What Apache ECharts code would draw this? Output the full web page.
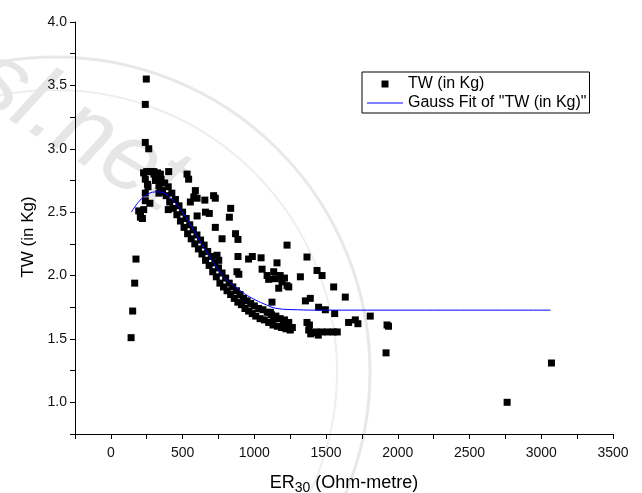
<!DOCTYPE html>
<html>
<head>
<meta charset="utf-8">
<script src="https://cdn.jsdelivr.net/npm/echarts@6/dist/echarts.min.js"></script>
<style>
  html, body { margin: 0; padding: 0; background: #fff; }
  #chart { width: 642px; height: 493px; }
</style>
</head>
<body>
<div id="chart"></div>
<script>
// ---- measurements: ER30 (Ohm-metre) vs TW (in Kg) ----

// low-resistivity column and spike near the peak
const peakEr = [141, 152, 166, 175, 194, 206, 206, 220, 229, 240, 240, 259, 255, 240, 272,
                247, 240, 240, 264, 228, 250, 275, 300, 325, 345, 403, 345, 335, 400];
const peakTw = [1.51, 1.72, 1.94, 2.13, 2.51, 2.46, 2.48, 2.45, 2.52, 2.59, 2.65, 2.70, 2.72, 2.76, 2.57,
                3.55, 3.35, 3.05, 3.00, 2.81, 2.82, 2.82, 2.82, 2.81, 2.80, 2.82, 2.66, 2.65, 2.52];

// main descending band (upper edge)
const bandUpperEr = [300, 325, 350, 375, 400, 425, 450, 475, 500, 525, 550, 575, 600, 625, 650, 675, 700,
                     725, 750, 775, 800, 825, 850, 875, 900, 925, 950, 975, 1000, 1030, 1060, 1090, 1120,
                     1150, 1180, 1210, 1240];
const bandUpperTw = [2.80, 2.78, 2.76, 2.73, 2.70, 2.65, 2.60, 2.55, 2.50, 2.45, 2.40, 2.36, 2.32, 2.28, 2.24,
                     2.19, 2.15, 2.10, 2.06, 2.02, 1.98, 1.94, 1.91, 1.88, 1.85, 1.82, 1.80, 1.78, 1.76,
                     1.74, 1.73, 1.71, 1.69, 1.68, 1.66, 1.65, 1.63];

// main descending band (lower edge)
const bandLowerEr = [310, 335, 360, 385, 410, 435, 460, 485, 510, 535, 560, 585, 610, 635, 660, 685, 710,
                     735, 760, 785, 810, 835, 860, 885, 910, 935, 960, 985, 1010, 1040, 1070, 1100, 1130,
                     1160, 1190, 1220, 1250];
const bandLowerTw = [2.75, 2.71, 2.67, 2.63, 2.58, 2.53, 2.48, 2.43, 2.38, 2.33, 2.29, 2.25, 2.21, 2.17, 2.12,
                     2.08, 2.03, 1.99, 1.94, 1.91, 1.88, 1.85, 1.82, 1.79, 1.77, 1.74, 1.72, 1.70, 1.68,
                     1.66, 1.65, 1.63, 1.61, 1.60, 1.59, 1.58, 1.57];

// scattered upper branch
const upperEr = [531, 542, 589, 601, 554, 578, 601, 655, 659, 686, 716, 728, 728, 740, 752, 775, 835, 826,
                 869, 886, 886, 879, 892, 960, 986, 1047, 1054, 1089, 1100, 1135, 1146, 1158, 1170, 1180,
                 1193, 1210, 1228, 1240, 1228, 1321, 1367, 1437, 1472, 1553, 1634, 1123];
const upperTw = [2.80, 2.76, 2.67, 2.61, 2.58, 2.62, 2.47, 2.595, 2.50, 2.49, 2.63, 2.61, 2.38, 2.16, 2.12,
                 2.29, 2.53, 2.46, 2.33, 2.285, 2.15, 2.03, 2.01, 2.13, 2.15, 2.14, 2.05, 2.00, 1.97, 2.03,
                 1.975, 2.10, 1.90, 2.00, 1.95, 1.98, 1.92, 1.91, 2.24, 1.99, 2.146, 2.04, 2.00, 1.91, 1.83, 1.79];

// tail at high resistivity
const tailEr = [1356, 1390, 1448, 1495, 1560, 1112, 1135, 1204, 1251, 1265, 1367, 1379, 1384, 1393, 1414,
                1430, 1446, 1470, 1510, 1550, 1578, 1657, 1704, 1722, 1808, 1925, 1935, 1918, 2762, 3071];
const tailTw = [1.80, 1.82, 1.75, 1.73, 1.70, 1.71, 1.66, 1.63, 1.58, 1.59, 1.63, 1.57, 1.61, 1.54, 1.55,
                1.555, 1.53, 1.555, 1.555, 1.555, 1.555, 1.63, 1.65, 1.62, 1.68, 1.61, 1.60, 1.39, 1.00, 1.31];

// Gauss fit curve
const fitEr = [143, 200, 260, 322, 380, 450, 510, 566, 610, 659, 710, 763, 820, 879, 940, 995, 1060,
               1158, 1300, 1460, 2000, 2500, 3065];
const fitTw = [2.50, 2.59, 2.645, 2.66, 2.645, 2.57, 2.48, 2.38, 2.29, 2.20, 2.11, 2.02, 1.95, 1.90,
               1.85, 1.815, 1.78, 1.74, 1.73, 1.727, 1.727, 1.727, 1.727];

// labelled tick values
const xLabelValues = [0, 500, 1000, 1500, 2000, 2500, 3000, 3500];
const yLabelValues = [1.0, 1.5, 2.0, 2.5, 3.0, 3.5, 4.0];

const seriesNames = ['TW (in Kg)', 'Gauss Fit of "TW (in Kg)"'];

function pairs(xs, ys) { return xs.map((x, i) => [x, ys[i]]); }
const scatterData = [].concat(
  pairs(peakEr, peakTw),
  pairs(bandUpperEr, bandUpperTw),
  pairs(bandLowerEr, bandLowerTw),
  pairs(upperEr, upperTw),
  pairs(tailEr, tailTw)
);
const fitData = pairs(fitEr, fitTw);

const FONT = '"Liberation Sans", Arial, Helvetica, sans-serif';
const chart = echarts.init(document.getElementById('chart'), null, { renderer: 'canvas' });

chart.setOption({
  animation: false,
  backgroundColor: '#ffffff',
  textStyle: { fontFamily: FONT },
  grid: { left: 75, right: 29, top: 22, bottom: 59, containLabel: false, outerBoundsMode: 'none' },
  // faint watermark behind the plot
  graphic: [
    { type: 'circle', silent: true, z: -10, shape: { cx: 55, cy: 372, r: 315 },
      style: { fill: 'none', stroke: '#e8e8e8', lineWidth: 3 } },
    { type: 'circle', silent: true, z: -10, shape: { cx: 55, cy: 372, r: 282 },
      style: { fill: 'none', stroke: '#eeeeee', lineWidth: 2 } },
    { type: 'text', silent: true, z: -10, x: 6, y: 30, rotation: -0.55,
      style: { text: 'sl.net', fontSize: 96, fontStyle: 'italic', fontFamily: FONT, fill: '#e6e6e6' } }
  ],
  legend: {
    orient: 'vertical',
    left: 362,
    top: 72,
    itemWidth: 36,
    itemHeight: 7,
    itemGap: 3,
    padding: [4, 3, 2, 5],
    borderColor: '#000',
    borderWidth: 1,
    backgroundColor: '#fff',
    textStyle: { fontSize: 16, color: '#000', fontFamily: FONT },
    data: [
      { name: seriesNames[0], icon: 'path://M0,0H10V10H0Z' },
      { name: seriesNames[1], icon: 'path://M0,0H36V1H0Z' }
    ]
  },
  xAxis: {
    type: 'value',
    min: -250,
    max: 3500,
    interval: 250,
    splitLine: { show: false },
    axisLine: { onZero: false, lineStyle: { color: '#000', width: 1 } },
    axisTick: { length: 5, lineStyle: { color: '#000' } },
    axisLabel: {
      fontSize: 14, color: '#111', margin: 12,
      formatter: v => xLabelValues.includes(v) ? String(v) : ''
    },
    name: 'ER{s|30} (Ohm-metre)',
    nameLocation: 'middle',
    nameGap: 37,
    nameTextStyle: {
      fontSize: 18, color: '#000', verticalAlign: 'top',
      rich: { s: { fontSize: 14, padding: [10, 0, 0, 0], verticalAlign: 'top', color: '#000' } }
    }
  },
  yAxis: {
    type: 'value',
    min: 0.75,
    max: 4.0,
    interval: 0.25,
    splitLine: { show: false },
    axisLine: { onZero: false, lineStyle: { color: '#000', width: 1 } },
    axisTick: { length: 5, lineStyle: { color: '#000' } },
    axisLabel: {
      fontSize: 14, color: '#111', margin: 8,
      formatter: v => yLabelValues.some(t => Math.abs(t - v) < 1e-6) ? v.toFixed(1) : ''
    },
    name: 'TW (in Kg)',
    nameLocation: 'middle',
    nameGap: 38,
    nameTextStyle: { fontSize: 17, color: '#000', padding: [0, 18, 0, 0] }
  },
  series: [
    {
      name: seriesNames[0],
      type: 'scatter',
      symbol: 'rect',
      symbolSize: 7,
      itemStyle: { color: '#000', opacity: 1 },
      z: 2,
      data: scatterData
    },
    {
      name: seriesNames[1],
      type: 'line',
      smooth: 0.4,
      symbol: 'none',
      lineStyle: { color: '#0000ff', width: 1 },
      itemStyle: { color: '#0000ff' },
      z: 3,
      data: fitData
    }
  ]
});
</script>
</body>
</html>
